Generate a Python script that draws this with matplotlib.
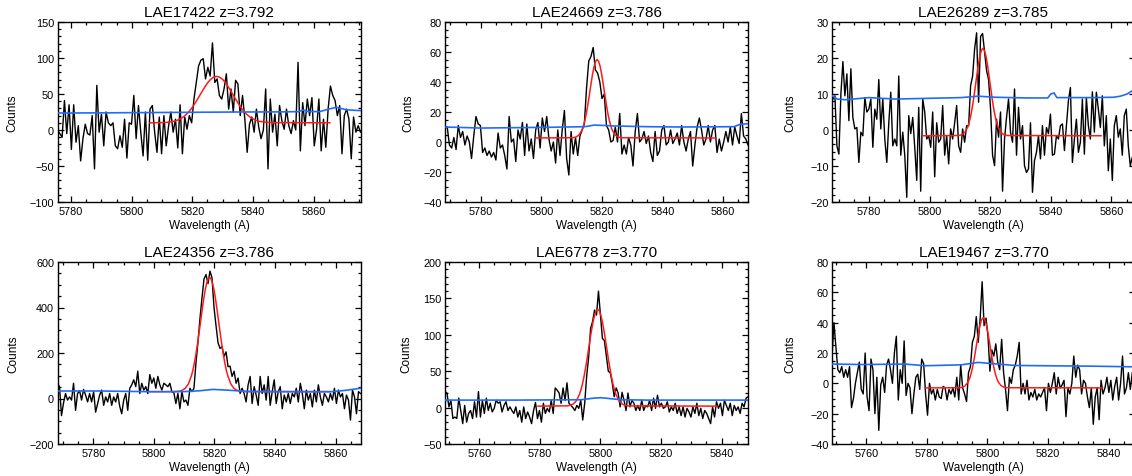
import numpy as np
import matplotlib
matplotlib.use("Agg")
import matplotlib.pyplot as plt
from matplotlib.ticker import MultipleLocator

plt.rcParams['font.family'] = ['Liberation Sans', 'DejaVu Sans']

# ---------------- data ----------------
titles = ["LAE17422 z=3.792", "LAE24669 z=3.786", "LAE26289 z=3.785",
          "LAE24356 z=3.786", "LAE6778 z=3.770", "LAE19467 z=3.770"]

xlims = [(5775.5, 5875.5), (5768.2, 5868.2), (5767.8, 5867.8),
         (5768.2, 5868.2), (5748.7, 5848.7), (5748.7, 5848.7)]
ylims = [(-100, 150), (-40, 80), (-20, 30), (-200, 600), (-50, 200), (-40, 80)]
ymajor = [50, 20, 10, 200, 50, 20]
yminor = [10, 5, 2, 50, 10, 5]
xticks = [[5780, 5800, 5820, 5840, 5860]] * 4 + [[5760, 5780, 5800, 5820, 5840]] * 2

# wavelength of first / last pixel of each observed spectrum
spec_start = [5775.5, 5768.2, 5768.1, 5768.2, 5748.7, 5748.7]
spec_end = [5875.5, 5868.2, 5866.9, 5868.2, 5848.7, 5847.8]

flux1 = [0, -5, -10, 41, -5, 35, -27, 35, -17, 6, -43, -12, 8, -5, -7, 20, -54, 62, -3, 22,
         -22, 25, 10, 6, 10, -22, -26, -8, -24, 15, -39, 10, 8, 48, -12, 34, -3, -36, 25, -42,
         29, 34, -3, -31, 18, -33, 20, -22, 5, 25, -3, 15, -25, 35, -33, 18, 1, 20, 10, 43,
         66, 89, 97, 99, 71, 87, 75, 121, 66, 71, 48, 43, 57, 78, 29, 57, 25, 69, 64, 20,
         48, 15, -31, 8, 18, -3, 29, 4, -12, 0, 57, -54, 43, -3, 22, -22, 34, 13, 1, 29,
         6, -5, 13, 0, 94, -29, 38, 6, 43, 20, 45, -22, 1, 43, -29, 15, -24, 29, 61, 48,
         41, 20, 34, -33, 20, 29, 15, -40, 18, -3, 6, -3]
flux2 = [10, 10, -2, -4, 3, -5, 11, 3, 7, -2, 4, 0, -11, 4, 17, 12, 11, -7, -4, -9,
         -6, -10, -7, -12, 6, -4, -2, -9, -18, 17, 0, 2, -13, 8, 2, 13, -9, 12, -6, 2,
         -11, 8, 13, -4, 16, 7, 17, 2, -6, 0, -14, 8, -9, 8, 21, -11, -22, 7, -8, 3,
         -9, 4, 8, 12, 36, 54, 57, 63, 48, 46, 40, 29, 32, 11, 8, 0, 1, 10, 0, 19,
         -8, -2, -8, 3, -2, -16, 7, 19, 0, 2, 7, -1, 4, -7, -13, 7, -9, -6, 8, 11,
         -2, 0, 8, -1, 2, 6, -2, 11, 0, -6, 2, 7, -16, -2, 10, 16, 8, -2, 2, 11,
         0, 8, 11, -7, 2, -6, 0, 7, 0, 10, -2, 10, 4, -1, 19, 4, 2, -2]
flux3 = [8.6, 9.5, -4.4, -6.7, 10, 19, 9.5, 15.6, 2.6, 17, 3.5, 0.3, 0.7, -9, -0.6, -1.6,
         9, 5, 5.8, 8.6, -4.8, 5.8, 3, 14, 0.3, 8.6, -2.5, -9, 2, 10.5, -4.4, -2.5, -4.4, 15,
         -7, -0.6, -7, -18.7, 4, -1, 3.5, -4.8, -14, 6.3, -17, 8.6, 5, -2.5, -1.6, -4.8,
         5, -13, 2, -3.4, -2.5, 6.8, -7, -1.6, -9.4, 0.3, -2.5, 2, 6.8, -4.4, -6.2, 0.3,
         -3.4, 1.2, 1.2, 12.3, 15, 22.5, 27, 7.7, 26, 26.8, 21.6, 16.5, 14, 5.8, -7, -9.9,
         3, -2, 5, -17, -2.5, 3.5, 8.6, -0.6, -3.4, 11.4, -7, 6.3, -2.5, 1.2, -9.9, -11.8,
         -10.8, 2, -17.3, -8.5, -6.2, -1.6, -8, 1.2, -7, 0.7, -1, 4.4, -7, -6.7, -1.6, -2.5,
         1.2, 1.7, -5.7, 1.2, 8.1, 11.8, -9, -2.5, 3, -6.2, -3.4, 8.6, -6.7, 9, 1.2, -2.5,
         10.6, -0.6, 10.5, 5.8, 0.7, 9.5, -4.4, 4, -11.3, -2.5, -14, 1.2, 4, -2, 0.3, -7,
         4, 5.8, -4.4, -9.9, -7.6]
flux4 = [67, 52, -75, -20, 22, -7, 7, -7, 67, -52, 22, 34, -7, 40, 15, -15, 22, -15, 30, -60,
         -22, 15, 37, -30, 7, -15, 22, -30, 7, -15, 22, -34, -67, -7, 22, -52, 45, 60, 82, 52,
         120, 22, 67, 37, 52, 22, 105, 67, 90, 45, 97, 60, 37, 67, 60, 52, 67, 30, 25, -22,
         22, -45, 30, -15, -7, -30, 45, 30, 45, 157, 247, 352, 442, 525, 545, 505, 560, 530, 400, 320,
         245, 220, 228, 185, 205, 140, 142, 97, 120, 67, 90, 22, 45, 22, -15, 60, 97, -22, 52, 15,
         -30, 97, 22, 60, -7, 97, -30, 30, 82, -22, 30, 52, -45, 15, -15, 22, -22, 22, 7, 45,
         -15, 67, 22, -45, 37, -7, 22, -37, 37, -15, 60, 7, -30, 22, 7, -15, 22, -7, 45, -22,
         37, 7, 22, -45, 15, -7, -95, 37, 7, -67, 30, 22]
flux5 = [22, 20, 1, 10, -15, -13, -15, 13, -4, -22, 3, -20, -8, -4, -15, 8, -13, 22, -13, 10,
         -8, 13, -4, 6, -6, -1, 10, 6, 8, -6, 3, 8, -4, 1, -4, -8, 1, -13, -4, -20,
         1, -15, -6, -13, -22, -4, 7, -15, -4, -20, 6, -8, -1, -6, 10, -8, 27, 24, 20, 6,
         27, 10, 34, 6, 3, 0, -4, 3, -1, 10, -17, 6, 43, 69, 109, 118, 134, 127, 160, 127,
         95, 92, 71, 50, 48, 34, 15, 27, 20, 1, 21, 10, -4, 20, 1, 10, 6, -4, 3, -4,
         10, -4, 3, 1, 10, -4, 13, -1, 17, 1, 6, -1, 1, 8, -6, 1, -4, 6, -8, 1,
         -11, 1, -13, -1, -6, -13, 1, -8, 6, -11, -1, -15, -4, -8, -15, -22, 1, -13, 8, -1,
         6, -11, 10, 3, -4, 6, -11, 3, -4, 1, -8, 6, 1, 13, 15]
flux6 = [17, 40, 24, 9, 7, 11, 4, 9, 4, 11, -16, -10, 0, 7, 14, -4, -7, 20, -9, -18,
         16, 9, -20, 4, -31, -1, 4, -6, 12, 16, 9, 0, 20, 31, -11, 9, 0, 28, -8, 0,
         -3, -20, -7, 4, 6, -4, 16, 13, -7, -21, 0, -7, -4, -11, -4, -9, -10, -2, -3, -11,
         -4, -7, -3, -9, 4, -11, 12, -3, -7, -12, 7, 11, 27, 31, 44, 27, 43, 67, 38, 43,
         31, 8, 22, 18, 26, 14, 9, 29, 7, -4, -18, 4, 0, 9, 12, 18, 27, -7, 0, -7,
         2, -11, -6, -9, -4, -11, -7, -9, -6, -3, -18, 0, -6, 0, 7, -7, 4, -3, -1, 2,
         -22, -3, -7, 0, 18, 4, 12, 9, -7, 2, 0, -9, -16, -3, -27, -9, -3, -24, 2, -7,
         -3, 4, -6, 2, -11, -2, 4, -11, 0, 18, -7, -3, 7, -4, 7]
fluxes = [flux1, flux2, flux3, flux4, flux5, flux6]

# noise (blue) spectra, sampled
noise_wl = [
    [5775.5, 5790, 5805, 5820, 5835, 5850, 5855, 5856.6, 5858, 5862, 5865, 5867.5, 5871, 5875.5],
    [5768.2, 5780.2, 5802.2, 5814.4, 5817.5, 5824.1, 5835, 5846, 5863.5, 5865.7, 5868.2],
    [5767.9, 5769.5, 5772.3, 5779.9, 5788.7, 5799.6, 5810.5, 5816, 5821.5, 5832.4, 5839,
     5840, 5841.1, 5842, 5854.2, 5860.8, 5863, 5865.2, 5866.9],
    [5768.2, 5782.2, 5798.6, 5809.6, 5815.1, 5819.5, 5823.8, 5831.5, 5847.9, 5858.9, 5863.3, 5868.2],
    [5748.7, 5771.7, 5793.6, 5798.0, 5800.2, 5803.5, 5806.8, 5815.5, 5837.4, 5848.7],
    [5748.7, 5758.6, 5772.8, 5779.4, 5791.4, 5796.9, 5802.4, 5809.0, 5818.8, 5835.3, 5847.8],
]
noise_val = [
    [23.6, 23.8, 24.2, 24.6, 25.0, 25.2, 25.5, 27.8, 25.8, 25.5, 29.0, 31.5, 28.0, 26.9],
    [10.0, 9.3, 9.8, 10.2, 11.3, 10.7, 10.2, 10.0, 10.2, 11.8, 12.2],
    [9.5, 8.6, 8.4, 9.0, 8.6, 8.8, 9.0, 9.4, 9.1, 8.9, 8.9, 10.0, 10.3, 9.0, 9.0, 9.1, 9.4, 10.0, 10.9],
    [33, 33, 30, 30, 34, 40, 37, 31, 30, 30, 36, 45],
    [10.3, 10.3, 10.8, 13.1, 13.6, 12.2, 10.8, 10.3, 10.3, 10.3],
    [12.7, 12.4, 12.7, 11.6, 12.2, 13.8, 12.9, 11.8, 11.6, 11.3, 10.9],
]

# Gaussian line fits (red), sampled
fit_wl = [
    [5806.0, 5810, 5812, 5814, 5815, 5816, 5817, 5818, 5819, 5820, 5821, 5822, 5823, 5824,
     5825, 5826, 5827, 5828, 5829, 5830, 5831, 5832, 5833, 5834, 5835, 5836, 5837, 5838,
     5839, 5840, 5841, 5842, 5844, 5846, 5865.4],
    [5798.3, 5810.4, 5811.4, 5812.4, 5813.4, 5813.9, 5814.4, 5814.9, 5815.4, 5815.9, 5816.4,
     5816.9, 5817.4, 5817.9, 5818.4, 5818.9, 5819.4, 5819.9, 5820.4, 5820.9, 5821.4, 5821.9,
     5822.4, 5822.9, 5823.4, 5824.4, 5825.4, 5826.4, 5857.5],
    [5797.9, 5809.6, 5810.6, 5811.6, 5812.6, 5813.1, 5813.6, 5814.1, 5814.6, 5815.1, 5815.6,
     5816.1, 5816.6, 5817.1, 5817.6, 5818.1, 5818.6, 5819.1, 5819.6, 5820.1, 5820.6, 5821.1,
     5821.6, 5822.1, 5822.6, 5823.6, 5824.6, 5825.6, 5856.6],
    [5798.6, 5806.4, 5808.4, 5809.4, 5810.4, 5811.4, 5812.4, 5812.9, 5813.4, 5813.9, 5814.4,
     5814.9, 5815.4, 5815.9, 5816.4, 5816.9, 5817.4, 5817.9, 5818.4, 5818.9, 5819.4, 5819.9,
     5820.4, 5820.9, 5821.4, 5821.9, 5822.4, 5822.9, 5823.4, 5823.9, 5824.4, 5825.4, 5826.4,
     5827.4, 5828.4, 5830.4, 5857.8],
    [5779.4, 5789.1, 5790.1, 5791.1, 5792.1, 5793.1, 5793.6, 5794.1, 5794.6, 5795.1, 5795.6,
     5796.1, 5796.6, 5797.1, 5797.6, 5798.1, 5798.6, 5799.1, 5799.6, 5800.1, 5800.6, 5801.1,
     5801.6, 5802.1, 5802.6, 5803.1, 5803.6, 5804.1, 5804.6, 5805.1, 5806.1, 5807.1, 5808.1,
     5809.1, 5838.5],
    [5779.4, 5790.6, 5791.6, 5792.6, 5793.6, 5794.1, 5794.6, 5795.1, 5795.6, 5796.1, 5796.6,
     5797.1, 5797.6, 5798.1, 5798.6, 5799.1, 5799.6, 5800.1, 5800.6, 5801.1, 5801.6, 5802.1,
     5802.6, 5803.1, 5803.6, 5804.6, 5805.6, 5806.6, 5838.0],
]
fit_val = [
    [10, 10.25, 10.8, 12.2, 13.5, 15.5, 18.1, 21.6, 26.1, 31.5, 37.9, 44.8, 52.0, 59.0, 65.3,
     70.2, 73.4, 74.5, 73.4, 70.2, 65.3, 59.0, 52.0, 44.8, 37.9, 31.5, 26.1, 21.6, 18.1, 15.5,
     13.5, 12.2, 10.8, 10.25, 10],
    [2.7, 2.85, 3.3, 4.6, 7.9, 10.8, 14.7, 19.6, 25.6, 32.1, 38.9, 45.2, 50.4, 53.8, 55,
     53.8, 50.4, 45.2, 38.9, 32.1, 25.6, 19.6, 14.7, 10.8, 7.9, 4.6, 3.3, 2.85, 2.7],
    [-1.6, -1.53, -1.33, -0.7, 0.8, 2.2, 4.0, 6.3, 9.0, 12.1, 15.2, 18.2, 20.6, 22.1, 22.7,
     22.1, 20.6, 18.2, 15.2, 12.1, 9.0, 6.3, 4.0, 2.2, 0.8, -0.7, -1.33, -1.53, -1.6],
    [30, 30.2, 32, 36, 45, 64, 100, 125, 158, 196, 239, 287, 336, 386, 433, 474, 505, 525, 532,
     525, 505, 474, 433, 386, 336, 287, 239, 196, 158, 125, 100, 64, 45, 36, 32, 30.2, 30],
    [2, 2.4, 3.2, 5.2, 9.7, 18.4, 24.9, 33.1, 43, 54.5, 67.2, 80.9, 94.4, 107.3, 118.6, 127.4,
     133.1, 135, 133.1, 127.4, 118.6, 107.3, 94.4, 80.9, 67.2, 54.5, 43, 33.1, 24.9, 18.4, 9.7,
     5.2, 3.2, 2.4, 2],
    [-3, -2.9, -2.66, -1.7, 0.8, 3.1, 6.4, 10.6, 15.8, 21.8, 28.0, 34.0, 38.9, 42.1, 43.3,
     42.1, 38.9, 34.0, 28.0, 21.8, 15.8, 10.6, 6.4, 3.1, 0.8, -1.7, -2.66, -2.9, -3],
]

# ---------------- layout (pixels) ----------------
W, H = 1132, 477
col_left = [57.5, 445.0, 832.0]
ax_w = 303.0
row_top = [23.0, 263.0]
ax_h = [180.0, 182.0]
ylabel_x = [-0.129, -0.101, -0.116, -0.127, -0.109, -0.116]

fig = plt.figure(figsize=(W / 100, H / 100), dpi=100)

for i in range(6):
    r, c = divmod(i, 3)
    left = col_left[c] / W
    bottom = (H - row_top[r] - ax_h[r]) / H
    ax = fig.add_axes([left, bottom, ax_w / W, ax_h[r] / H])

    wl = np.linspace(spec_start[i], spec_end[i], len(fluxes[i]))
    ax.plot(wl, fluxes[i], color='black', lw=1.0, zorder=2)
    ax.plot(fit_wl[i], fit_val[i], color='#ff1a1a', lw=1.1, zorder=3)
    ax.plot(noise_wl[i], noise_val[i], color='#1f6bff', lw=1.2, zorder=4)

    ax.set_xlim(*xlims[i])
    ax.set_ylim(*ylims[i])
    ax.set_xticks(xticks[i])
    ax.xaxis.set_minor_locator(MultipleLocator(5))
    ax.yaxis.set_major_locator(MultipleLocator(ymajor[i]))
    ax.yaxis.set_minor_locator(MultipleLocator(yminor[i]))
    ax.tick_params(which='both', direction='in', top=True, right=True,
                   labelsize=7.8, width=0.9, colors='black')
    ax.tick_params(which='major', length=4.0)
    ax.tick_params(which='minor', length=2.2)
    ax.tick_params(axis='y', pad=2.5)
    ax.tick_params(axis='x', pad=3.0)
    for s in ax.spines.values():
        s.set_linewidth(1.0)

    ax.set_title(titles[i], fontsize=11, pad=4)
    ax.set_ylabel("Counts", fontsize=8.5)
    ax.yaxis.set_label_coords(ylabel_x[i], 0.5)
    ax.set_xlabel("Wavelength (A)", fontsize=8.5)
    ax.xaxis.set_label_coords(0.5, -0.093)

fig.savefig("out.png", dpi=100)
